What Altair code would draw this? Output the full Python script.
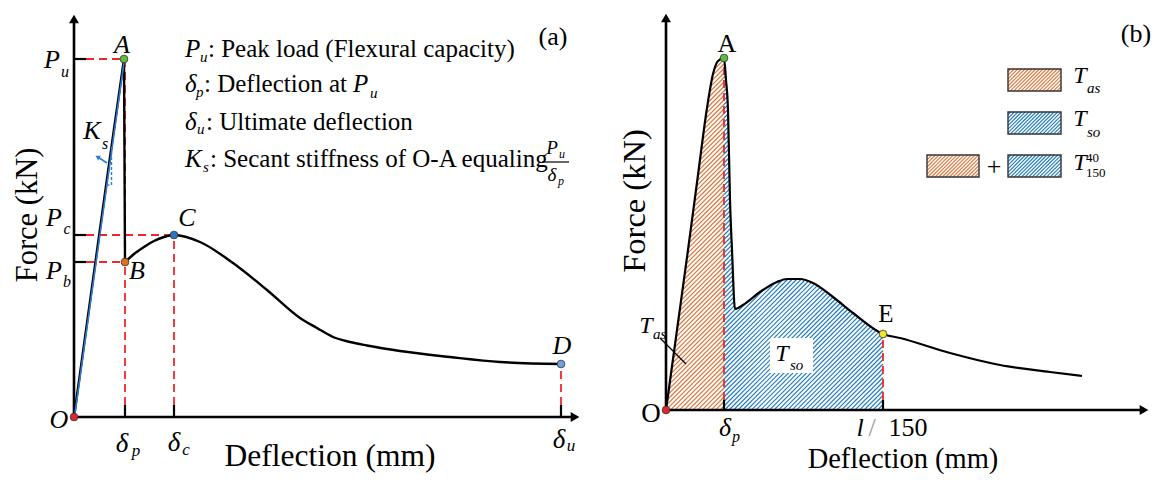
import altair as alt
import numpy as np
import pandas as pd

FONT = "Liberation Serif"
RED = "#F0262B"
SEC_BLUE = "#2E7BD1"
HATCH_OR = "#DB783C"
HATCH_BL = "#1F7CC1"

# ================= Panel (a): schematic load-deflection curve =================
a_OA_x = [0.0, 1.3, 2.6, 3.8, 4.6, 5.0]
a_OA_y = [0.0, 9.4, 18.8, 27.4, 33.0, 35.8]
a_AB_x = [5.0, 5.1]
a_AB_y = [35.8, 15.5]
a_BD_x = [5.1, 6.0, 7.0, 8.0, 9.0, 10.0, 12.6, 15.9, 19.3, 22.6, 24.3, 25.9, 27.6, 29.3, 32.6, 37.6, 42.6, 48.7]
a_BD_y = [15.5, 16.3, 17.0, 17.6, 18.0, 18.2, 17.5, 15.4, 12.7, 9.9, 8.9, 8.0, 7.5, 7.15, 6.6, 6.0, 5.5, 5.3]

a_pt_name = ["O", "A", "B", "C", "D"]
a_pt_x = [0.0, 5.0, 5.1, 10.0, 48.7]
a_pt_y = [0.0, 35.8, 15.5, 18.2, 5.3]

delta_p, delta_c, delta_u = 5.1, 10.0, 48.7
P_u, P_c, P_b = 35.8, 18.2, 15.5
a_tick = 1.2
a_xmax, a_ymax = 50.6, 40.3

# ================= Panel (b): toughness definition =================
b_x = [0.0, 1.1, 2.2, 3.2, 4.1, 4.7, 5.2, 5.8, 6.0, 6.2, 6.4, 6.6, 6.9, 7.7, 9.4, 11.1, 12.1,
       13.4, 14.7, 16.7, 18.7, 21.7, 23.4, 28.4, 33.4, 38.4, 41.6]
b_y = [0.0, 8.0, 16.0, 23.5, 30.2, 33.6, 34.9, 35.2, 33.0, 30.0, 21.0, 16.0, 10.1, 10.5, 11.8, 12.8, 13.1,
       13.1, 12.7, 11.3, 9.7, 7.6, 7.2, 5.7, 4.5, 3.8, 3.4]
b_pt_name = ["O", "A", "E"]
b_pt_x = [0.0, 5.8, 21.7]
b_pt_y = [0.0, 35.2, 7.6]
b_delta_p, b_E = 5.8, 21.7
b_tick = 1.0
b_xmax, b_ymax = 48.3, 39.7

# legend boxes of panel (b)
leg_x0 = [34.2, 34.2, 26.1, 34.2]
leg_x1 = [39.5, 39.5, 31.3, 39.5]
leg_y0 = [31.9, 27.6, 23.3, 23.3]
leg_y1 = [34.1, 29.8, 25.5, 25.5]
leg_kind = ["as", "so", "as", "so"]

PT_DOMAIN = ["O", "A", "B", "C", "D", "E"]
PT_RANGE = ["#E3262B", "#5DBE3F", "#E0701E", "#2C74C8", "#6E9FE3", "#F2E62A"]

XA = alt.Scale(domain=[-6.6, 52.4], nice=False, zero=False)
YA = alt.Scale(domain=[-5.6, 40.9], nice=False, zero=False)
XB = alt.Scale(domain=[-6.8, 48.7], nice=False, zero=False)
YB = alt.Scale(domain=[-6.3, 40.2], nice=False, zero=False)


def enc_xy(xs, ys):
    return dict(x=alt.X("x:Q", scale=xs, axis=None), y=alt.Y("y:Q", scale=ys, axis=None))


def rules(df, xs, ys, **mk):
    return alt.Chart(df).mark_rule(**mk).encode(**enc_xy(xs, ys), x2="x2:Q", y2="y2:Q")


def seg_df(rows):
    return pd.DataFrame(rows, columns=["x", "y", "x2", "y2"])


def text_layers(rows, xs, ys):
    df = pd.DataFrame(rows, columns=["t", "x", "y", "fs", "it", "al", "ang", "col"])
    out = []
    for (it, al, col), g in df.groupby(["it", "al", "col"]):
        out.append(
            alt.Chart(g).mark_text(font=FONT, fontStyle="italic" if it else "normal",
                                   align=al, baseline="middle", color=col)
            .encode(**enc_xy(xs, ys), text="t:N",
                    size=alt.Size("fs:Q", scale=None, legend=None),
                    angle=alt.Angle("ang:Q", scale=None))
        )
    return out


def hatch(x0, x1, lower, upper, gap, step=0.01):
    xs = np.arange(x0, x1 + step / 2, step)
    lo, hi = lower(xs), upper(xs)
    segs = []
    for c in np.arange(np.floor((x0 - hi.max()) / gap) * gap, x1 - lo.min() + gap, gap):
        ys = xs - c
        inside = (ys >= lo) & (ys <= hi)
        idx = np.flatnonzero(inside)
        if idx.size < 2:
            continue
        br = np.flatnonzero(np.diff(idx) > 1)
        starts = np.r_[idx[0], idx[br + 1]]
        ends = np.r_[idx[br], idx[-1]]
        for s, e in zip(starts, ends):
            if e > s:
                segs.append((xs[s], ys[s], xs[e], ys[e]))
    return seg_df(segs)


def points(names, px, py, xs, ys):
    df = pd.DataFrame({"name": names, "x": px, "y": py})
    return alt.Chart(df).mark_point(shape="circle", filled=True, size=60, opacity=1,
                                    stroke="#333333", strokeWidth=0.8).encode(
        **enc_xy(xs, ys),
        color=alt.Color("name:N", scale=alt.Scale(domain=PT_DOMAIN, range=PT_RANGE), legend=None))


def arrowheads(px, py, shapes, xs, ys):
    df = pd.DataFrame({"x": px, "y": py, "s": shapes})
    return alt.Chart(df).mark_point(filled=True, size=100, opacity=1, color="black", strokeWidth=0).encode(
        **enc_xy(xs, ys), shape=alt.Shape("s:N", scale=None, legend=None))


# ----------------------------- panel (a) layers -----------------------------
la = []
la.append(rules(seg_df([
    (0, P_u, a_tick, P_u), (0, P_c, a_tick, P_c), (0, P_b, a_tick, P_b),
    (delta_p, 0, delta_p, a_tick), (delta_c, 0, delta_c, a_tick), (delta_u, 0, delta_u, a_tick)]),
    XA, YA, color="black", strokeWidth=2.2))
la.append(rules(seg_df([
    (a_tick, P_u, a_pt_x[1], P_u), (a_tick, P_c, delta_c, P_c), (a_tick, P_b, delta_p, P_b),
    (delta_p, a_tick, delta_p, P_u), (delta_c, a_tick, delta_c, P_c), (delta_u, a_tick, delta_u, a_pt_y[4])]),
    XA, YA, color=RED, strokeWidth=1.8, strokeDash=[8, 5]))
la.append(rules(seg_df([(0, 0, a_xmax - 0.6, 0), (0, 0, 0, a_ymax - 0.6)]), XA, YA, color="black", strokeWidth=2.6))
la.append(arrowheads([a_xmax - 0.5, 0], [0, a_ymax - 0.5], ["triangle-right", "triangle-up"], XA, YA))

curve_a = pd.DataFrame({
    "x": a_OA_x + a_AB_x + a_BD_x,
    "y": a_OA_y + a_AB_y + a_BD_y,
    "seg": [0] * len(a_OA_x) + [1] * len(a_AB_x) + [2] * len(a_BD_x)})
la.append(alt.Chart(curve_a).mark_line(color="black", strokeWidth=2.4, interpolate="monotone")
          .encode(**enc_xy(XA, YA), detail="seg:N"))
# secant stiffness line and slope marker
la.append(rules(seg_df([(0.05, 0, a_pt_x[1] + 0.05, P_u)]), XA, YA, color=SEC_BLUE, strokeWidth=1.6))
la.append(rules(seg_df([(3.75, 23.2, 3.75, 27.0), (3.25, 23.2, 3.75, 23.2)]), XA, YA,
                color=SEC_BLUE, strokeWidth=1.4, strokeDash=[3, 2]))
la.append(rules(seg_df([(3.3, 25.4, 2.45, 25.95)]), XA, YA, color=SEC_BLUE, strokeWidth=1.6))
la.append(alt.Chart(pd.DataFrame({"x": [2.35], "y": [26.0]})).mark_point(
    shape="triangle-left", filled=True, size=30, opacity=1, color=SEC_BLUE, angle=30).encode(**enc_xy(XA, YA)))
la.append(rules(seg_df([(46.8, 25.5, 49.5, 25.5)]), XA, YA, color="black", strokeWidth=1.2))
la.append(points(a_pt_name, a_pt_x, a_pt_y, XA, YA))

K = "black"
ta = [
    ("A", 4.8, 37.2, 26, 1, "center", 0, K), ("B", 6.3, 14.6, 26, 1, "center", 0, K),
    ("C", 11.3, 19.9, 26, 1, "center", 0, K), ("D", 48.8, 7.1, 26, 1, "center", 0, K),
    ("O", -1.5, -0.3, 26, 1, "center", 0, K),
    ("K", 1.8, 28.6, 26, 1, "center", 0, K), ("s", 3.1, 27.3, 16, 1, "center", 0, K),
    ("P", -2.2, 35.7, 26, 1, "center", 0, K), ("u", -0.9, 34.5, 16, 1, "center", 0, K),
    ("P", -2.0, 19.9, 26, 1, "center", 0, K), ("c", -0.7, 18.8, 16, 1, "center", 0, K),
    ("P", -2.0, 14.6, 26, 1, "center", 0, K), ("b", -0.7, 13.5, 16, 1, "center", 0, K),
    ("δ", 4.8, -2.7, 27, 1, "center", 0, K), ("p", 6.2, -3.4, 17, 1, "center", 0, K),
    ("δ", 10.0, -2.6, 27, 1, "center", 0, K), ("c", 11.2, -3.3, 17, 1, "center", 0, K),
    ("δ", 48.5, -2.3, 27, 1, "center", 0, K), ("u", 49.7, -2.9, 17, 1, "center", 0, K),
    ("Deflection (mm)", 32.8 - 7.2, -3.95, 31.5, 0, "center", 0, K),
    ("Force (kN)", -4.6, 20.2, 30.5, 0, "center", 270, K),
    ("(a)", 47.9, 38.0, 26, 0, "center", 0, K),
    ("P", 11.1, 36.8, 25, 1, "left", 0, K), ("u", 12.6, 36.0, 15, 1, "left", 0, K),
    (": Peak load (Flexural capacity)", 13.4, 36.8, 25, 0, "left", 0, K),
    ("δ", 11.1, 33.3, 25, 1, "left", 0, K), ("p", 12.2, 32.5, 15, 1, "left", 0, K),
    (": Deflection at", 13.0, 33.3, 25, 0, "left", 0, K),
    ("P", 27.9, 33.3, 25, 1, "left", 0, K), ("u", 29.6, 32.4, 15, 1, "left", 0, K),
    ("δ", 11.1, 29.5, 25, 1, "left", 0, K), ("u", 12.3, 28.8, 15, 1, "left", 0, K),
    (": Ultimate deflection", 13.2, 29.5, 25, 0, "left", 0, K),
    ("K", 11.1, 25.8, 25, 1, "left", 0, K), ("s", 12.9, 25.0, 15, 1, "left", 0, K),
    (": Secant stiffness of O-A equaling", 13.6, 25.8, 25, 0, "left", 0, K),
    ("P", 47.8, 26.9, 19, 1, "center", 0, K), ("u", 48.8, 26.3, 12, 1, "center", 0, K),
    ("δ", 47.8, 24.2, 19, 1, "center", 0, K), ("p", 48.7, 23.6, 12, 1, "center", 0, K),
]
la += text_layers(ta, XA, YA)

# ----------------------------- panel (b) layers -----------------------------
lb = []
curve_up = lambda xs: np.interp(xs, b_x, b_y)
zero = lambda xs: np.zeros_like(xs)
lb.append(rules(hatch(0.0, b_delta_p, zero, curve_up, 0.45), XB, YB, color=HATCH_OR, strokeWidth=1.2))
lb.append(rules(hatch(b_delta_p, b_E, zero, curve_up, 0.45), XB, YB, color=HATCH_BL, strokeWidth=1.2))
for x0, x1, y0, y1, kd in zip(leg_x0, leg_x1, leg_y0, leg_y1, leg_kind):
    lb.append(rules(hatch(x0, x1, lambda xs, v=y0: np.full_like(xs, v), lambda xs, v=y1: np.full_like(xs, v), 0.36),
                    XB, YB, color=HATCH_OR if kd == "as" else HATCH_BL, strokeWidth=1.1))
leg_df = pd.DataFrame({"x": leg_x0, "x2": leg_x1, "y": leg_y0, "y2": leg_y1})
lb.append(alt.Chart(leg_df).mark_rect(fillOpacity=0, stroke="#333333", strokeWidth=1.4)
          .encode(**enc_xy(XB, YB), x2="x2:Q", y2="y2:Q"))
# white box behind T_so
lb.append(alt.Chart(pd.DataFrame({"x": [10.4], "x2": [14.7], "y": [3.7], "y2": [7.2]}))
          .mark_rect(color="white").encode(**enc_xy(XB, YB), x2="x2:Q", y2="y2:Q"))
lb.append(rules(seg_df([(b_delta_p, 0, b_delta_p, b_tick), (b_E, 0, b_E, b_tick)]), XB, YB,
                color="black", strokeWidth=2.2))
lb.append(rules(seg_df([(b_delta_p, b_tick, b_delta_p, b_pt_y[1]), (b_E, b_tick, b_E, b_pt_y[2])]), XB, YB,
                color=RED, strokeWidth=1.8, strokeDash=[8, 5]))
lb.append(rules(seg_df([(0, 0, b_xmax - 0.6, 0), (0, 0, 0, b_ymax - 0.6)]), XB, YB, color="black", strokeWidth=2.6))
lb.append(arrowheads([b_xmax - 0.5, 0], [0, b_ymax - 0.5], ["triangle-right", "triangle-up"], XB, YB))
lb.append(rules(seg_df([(-0.6, 7.2, 2.0, 4.6)]), XB, YB, color="black", strokeWidth=1.2))
curve_b = pd.DataFrame({"x": b_x, "y": b_y})
lb.append(alt.Chart(curve_b).mark_line(color="black", strokeWidth=2.2, interpolate="monotone")
          .encode(**enc_xy(XB, YB)))
lb.append(points(b_pt_name, b_pt_x, b_pt_y, XB, YB))

tb = [
    ("A", 6.1, 36.6, 26, 0, "center", 0, K), ("E", 22.0, 9.6, 25, 0, "center", 0, K),
    ("O", -1.5, -0.4, 27, 0, "center", 0, K),
    ("δ", 5.9, -1.8, 26, 1, "center", 0, K), ("p", 7.0, -2.7, 16, 1, "center", 0, K),
    ("l", 19.4, -1.8, 26, 1, "center", 0, K), ("/", 20.6, -1.8, 26, 0, "center", 0, "#9a9a9a"),
    ("150", 24.2, -1.8, 26, 0, "center", 0, K),
    ("Deflection (mm)", 23.7, -4.9, 28.5, 0, "center", 0, K),
    ("Force (kN)", -3.1, 20.9, 32.5, 0, "center", 270, K),
    ("(b)", 47.0, 37.6, 26, 0, "center", 0, K),
    ("T", 41.4, 33.4, 24, 1, "center", 0, K), ("as", 42.1, 32.2, 15, 1, "left", 0, K),
    ("T", 41.4, 29.1, 24, 1, "center", 0, K), ("so", 42.1, 27.8, 15, 1, "left", 0, K),
    ("T", 41.4, 24.7, 24, 1, "center", 0, K), ("40", 42.0, 25.2, 13, 0, "left", 0, K),
    ("150", 42.0, 23.7, 13, 0, "left", 0, K),
    ("+", 32.8, 24.3, 26, 0, "center", 0, K),
    ("T", 11.6, 5.6, 24, 1, "center", 0, K), ("so", 12.4, 4.5, 15, 1, "left", 0, K),
    ("T", -2.0, 8.4, 24, 1, "center", 0, K), ("as", -1.3, 7.6, 15, 1, "left", 0, K),
]
lb += text_layers(tb, XB, YB)

panel_a = alt.layer(*la).properties(width=590, height=465)
panel_b = alt.layer(*lb).properties(width=555, height=465)

chart = (alt.hconcat(panel_a, panel_b, spacing=0, bounds="flush")
         .properties(padding=0)
         .configure_view(strokeWidth=0))

chart.save("out.html", embed_options={"renderer": "svg", "actions": False})
